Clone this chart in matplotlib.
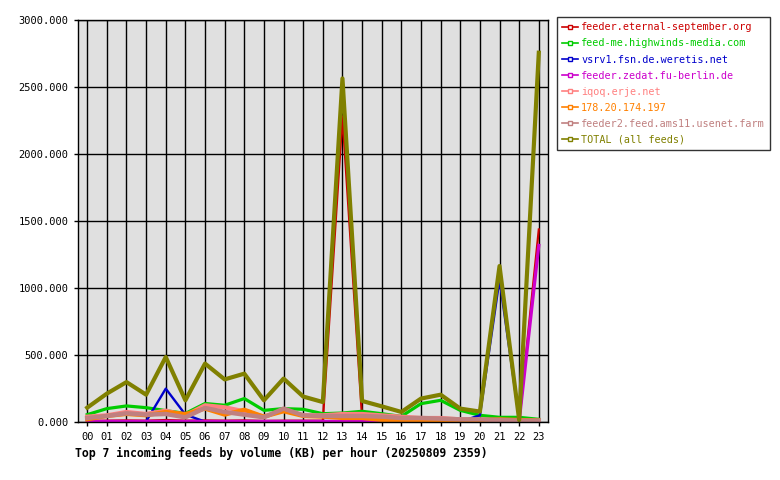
import matplotlib
matplotlib.use("Agg")
import matplotlib.pyplot as plt
from matplotlib.lines import Line2D

hours = ["%02d" % h for h in range(24)]

feeds = ["feeder.eternal-september.org", "feed-me.highwinds-media.com",
         "vsrv1.fsn.de.weretis.net", "feeder.zedat.fu-berlin.de",
         "iqoq.erje.net", "178.20.174.197", "feeder2.feed.ams11.usenet.farm",
         "TOTAL (all feeds)"]

eternal = [8, 10, 12, 10, 15, 10, 12, 10, 12, 8, 10, 10, 10, 2280, 30, 15, 10, 10, 10, 8, 8, 10, 8, 1437]
highwinds = [55, 100, 120, 107, 85, 64, 138, 125, 175, 87, 100, 95, 62, 67, 80, 62, 42, 137, 162, 87, 50, 35, 35, 20]
weretis = [3, 3, 3, 5, 249, 55, 3, 3, 3, 3, 3, 3, 3, 3, 3, 3, 3, 3, 3, 3, 50, 1065, 20, 5]
zedat = [5, 5, 5, 5, 5, 5, 5, 5, 5, 5, 5, 5, 5, 5, 5, 5, 5, 5, 5, 5, 5, 5, 5, 1318]
iqoq = [40, 50, 75, 60, 85, 50, 125, 110, 80, 40, 90, 50, 50, 60, 60, 50, 40, 30, 30, 20, 15, 15, 15, 10]
ip178 = [20, 45, 60, 50, 75, 60, 100, 55, 92, 40, 80, 45, 40, 30, 30, 15, 10, 15, 10, 10, 15, 20, 15, 10]
ams11 = [30, 45, 65, 55, 60, 35, 105, 75, 55, 35, 100, 50, 45, 45, 45, 40, 30, 30, 25, 20, 20, 15, 10, 10]
total = [107, 212, 298, 204, 485, 162, 436, 318, 361, 162, 324, 190, 149, 2564, 157, 117, 75, 175, 204, 100, 78, 1164, 15, 2756]

series = [eternal, highwinds, weretis, zedat, iqoq, ip178, ams11, total]
colors = ["#cc0000", "#00cc00", "#0000cc", "#cc00cc", "#ff8080", "#ff8000", "#c08080", "#808000"]
widths = [1.6, 2.3, 1.7, 2.3, 3, 3, 3.2, 3]

plt.rcParams['font.family'] = ['DejaVu Sans Mono']
fig = plt.figure(figsize=(7.8, 4.8), dpi=100)
ax = fig.add_axes([0.1, 0.1208, 0.6026, 0.8375])
ax.set_facecolor("#e0e0e0")

x = list(range(24))
for vals, c, w in zip(series, colors, widths):
    ax.plot(x, vals, color=c, linewidth=w)

ax.set_xlim(-0.47, 23.47)
ax.set_ylim(0, 3000)
ax.set_xticks(x)
ax.set_xticklabels(hours, fontsize=7.5)
ax.set_yticks(range(0, 3001, 500))
ax.set_yticklabels(["%d.000" % v for v in range(0, 3001, 500)], fontsize=7.5)
ax.grid(True, color="black", linewidth=1)
ax.set_axisbelow(True)
ax.tick_params(length=3, width=1, pad=4)
for s in ax.spines.values():
    s.set_linewidth(1)

fig.text(0.096, 0.048, "Top 7 incoming feeds by volume (KB) per hour (20250809 2359)",
         fontsize=8.3, fontweight="bold")

handles = [Line2D([0], [0], color=c, linewidth=1.2, marker="s", markersize=3,
                  markerfacecolor="white", markeredgecolor=c) for c in colors]
leg = fig.legend(handles, feeds, loc="upper left", bbox_to_anchor=(0.714, 0.964),
                 fontsize=7.3, frameon=True, fancybox=False, handlelength=1.6,
                 handletextpad=0.3, borderpad=0.5, borderaxespad=0, labelspacing=0.6)
leg.get_frame().set_edgecolor("black")
leg.get_frame().set_linewidth(1)
for t, c in zip(leg.get_texts(), colors):
    t.set_color(c)

fig.savefig("out.png", dpi=100)
